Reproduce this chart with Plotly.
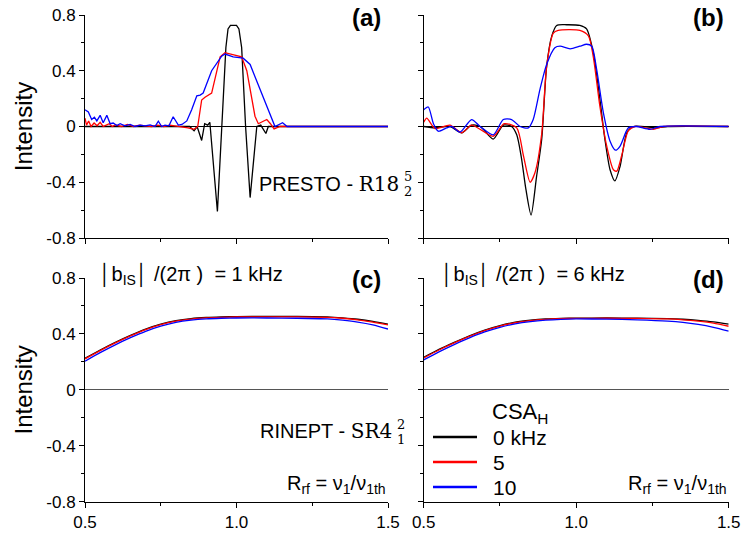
import plotly.graph_objects as go

W, H = 745, 535

# ---------------- data ----------------
# Panel (a) PRESTO, |b|/2pi = 1 kHz
a_black_x = [0.50, 0.82, 0.845, 0.86, 0.87, 0.885, 0.895, 0.905, 0.912, 0.937, 0.951, 0.965, 0.972,
             0.980, 1.000, 1.008, 1.017, 1.030, 1.045, 1.067, 1.080, 1.097, 1.105, 1.50]
a_black_y = [0.0, 0.0, 0.0, -0.03, 0.0, -0.10, 0.02, 0.01, 0.03, -0.61, 0.0, 0.567, 0.70,
             0.725, 0.725, 0.70, 0.567, 0.0, -0.51, 0.0, 0.01, -0.05, 0.0, 0.0]

a_red_x = [0.50, 0.505, 0.512, 0.52, 0.53, 0.54, 0.55, 0.56, 0.57, 0.58, 0.59, 0.60, 0.62, 0.64,
           0.66, 0.68, 0.70, 0.72, 0.74, 0.76, 0.78, 0.80, 0.82, 0.84, 0.86, 0.872, 0.885, 0.896,
           0.918, 0.946, 0.962, 0.99, 1.017, 1.034, 1.061, 1.072, 1.085, 1.100, 1.112, 1.124, 1.144,
           1.20, 1.30, 1.40, 1.50]
a_red_y = [0.06, 0.01, 0.04, 0.0, 0.025, 0.005, 0.03, 0.0, 0.01, 0.02, 0.0, 0.012, 0.0, 0.015,
           0.0, 0.01, 0.004, 0.0, 0.01, 0.0, 0.01, 0.005, 0.0, -0.01, -0.02, 0.0, 0.19, 0.21,
           0.24, 0.50, 0.53, 0.515, 0.50, 0.40, 0.074, 0.02, 0.035, 0.05, 0.02, -0.017, 0.0,
           0.0, 0.0, 0.0, 0.0]

a_blue_x = [0.500, 0.511, 0.522, 0.531, 0.539, 0.550, 0.560, 0.572, 0.583, 0.593, 0.605, 0.616,
            0.632, 0.649, 0.665, 0.682, 0.698, 0.715, 0.731, 0.742, 0.753, 0.764, 0.777, 0.791,
            0.808, 0.820, 0.836, 0.852, 0.869, 0.880, 0.890, 0.918, 0.951, 0.962, 0.989, 1.022,
            1.045, 1.078, 1.100, 1.116, 1.127, 1.152, 1.167, 1.30, 1.50]
a_blue_y = [0.12, 0.105, 0.05, 0.067, 0.04, 0.08, 0.027, 0.08, 0.02, 0.025, 0.007, 0.02,
            0.005, 0.015, 0.0, 0.01, 0.005, 0.012, 0.0, 0.038, 0.0, 0.01, 0.005, 0.07,
            0.01, 0.015, 0.04, 0.12, 0.22, 0.225, 0.24, 0.40, 0.505, 0.52, 0.50, 0.49,
            0.445, 0.265, 0.146, 0.05, 0.0, 0.027, 0.0, 0.0, 0.0]

# Panel (b) PRESTO, |b|/2pi = 6 kHz
b_black_x = [0.50, 0.537, 0.586, 0.625, 0.657, 0.685, 0.728, 0.761, 0.788, 0.805, 0.820, 0.835,
             0.852, 0.870, 0.887, 0.903, 0.920, 0.936, 0.969, 1.012, 1.034, 1.056, 1.078, 1.094,
             1.111, 1.127, 1.144, 1.166, 1.187, 1.264, 1.30, 1.50]
b_black_y = [0.0, -0.01, 0.0, -0.045, 0.01, 0.0, -0.09, 0.01, 0.0, -0.06, -0.22, -0.45,
             -0.635, -0.36, -0.09, 0.43, 0.65, 0.725, 0.73, 0.725, 0.70, 0.53, 0.19, -0.09,
             -0.31, -0.39, -0.285, -0.045, 0.0, -0.01, 0.0, 0.0]

b_red_x = [0.50, 0.51, 0.537, 0.586, 0.625, 0.657, 0.728, 0.764, 0.805, 0.827, 0.849, 0.865,
           0.887, 0.903, 0.925, 0.941, 1.012, 1.040, 1.056, 1.078, 1.100, 1.122, 1.133, 1.149,
           1.171, 1.193, 1.253, 1.286, 1.50]
b_red_y = [0.03, 0.06, -0.015, 0.01, -0.045, 0.01, -0.07, 0.02, -0.01, -0.21, -0.40, -0.33,
           -0.05, 0.43, 0.67, 0.69, 0.69, 0.65, 0.50, 0.14, -0.14, -0.31, -0.32, -0.21,
           -0.03, 0.0, -0.02, 0.0, 0.0]

b_blue_x = [0.50, 0.515, 0.532, 0.548, 0.575, 0.592, 0.619, 0.657, 0.685, 0.728, 0.761, 0.788,
            0.816, 0.843, 0.859, 0.881, 0.903, 0.930, 0.947, 0.980, 1.012, 1.034, 1.051, 1.067,
            1.089, 1.111, 1.129, 1.144, 1.171, 1.198, 1.242, 1.275, 1.50]
b_blue_y = [0.12, 0.14, 0.02, -0.034, -0.01, 0.0, -0.04, 0.05, 0.0, -0.06, 0.05, 0.05,
            0.0, -0.01, 0.05, 0.265, 0.445, 0.565, 0.576, 0.557, 0.576, 0.59, 0.576, 0.41,
            0.10, -0.105, -0.17, -0.14, -0.01, 0.0, -0.02, 0.0, 0.0]

# Panels (c), (d) RINEPT
r_x = [0.50, 0.55, 0.60, 0.65, 0.70, 0.75, 0.80, 0.85, 0.90, 0.95, 1.00, 1.10, 1.20, 1.30,
       1.35, 1.40, 1.45, 1.50]
c_black = [0.226, 0.285, 0.34, 0.39, 0.435, 0.47, 0.495, 0.51, 0.518, 0.522, 0.524, 0.525,
           0.525, 0.522, 0.515, 0.505, 0.49, 0.47]
c_red = [0.222, 0.281, 0.336, 0.386, 0.431, 0.466, 0.491, 0.506, 0.515, 0.519, 0.521, 0.522,
         0.522, 0.519, 0.512, 0.501, 0.485, 0.465]
c_blue = [0.205, 0.266, 0.322, 0.373, 0.419, 0.456, 0.483, 0.499, 0.508, 0.512, 0.514, 0.514,
          0.512, 0.507, 0.498, 0.485, 0.465, 0.435]
d_black = [0.233, 0.29, 0.34, 0.387, 0.428, 0.46, 0.484, 0.498, 0.507, 0.511, 0.513, 0.514,
           0.513, 0.51, 0.505, 0.497, 0.486, 0.47]
d_red = [0.228, 0.285, 0.336, 0.383, 0.424, 0.456, 0.48, 0.495, 0.504, 0.509, 0.511, 0.512,
         0.511, 0.507, 0.501, 0.491, 0.477, 0.455]
d_blue = [0.214, 0.272, 0.324, 0.372, 0.414, 0.447, 0.472, 0.488, 0.498, 0.504, 0.507, 0.506,
          0.501, 0.492, 0.483, 0.468, 0.447, 0.42]

series_names = ["0 kHz", "5", "10"]
colors = ["#000000", "#ff0000", "#0000ff"]

x_tickvals = [0.5, 1.0, 1.5]
x_ticktext = ["0.5", "1.0", "1.5"]
y_tickvals = [0.8, 0.4, 0, -0.4, -0.8]
y_ticktext = ["0.8", "0.4", "0", "-0.4", "-0.8"]

# ---------------- figure ----------------
FONT = "Arial, Liberation Sans, sans-serif"
SERIF = "DejaVu Serif"
fig = go.Figure()


def X(p):
    return p / W


def Y(p):
    return 1 - p / H


def add(xs, ys, axn, color, name, shape):
    suffix = "" if axn == 1 else str(axn)
    fig.add_trace(go.Scatter(
        x=xs, y=ys, mode="lines", name=name, showlegend=False,
        line=dict(color=color, width=1.3, shape=shape, smoothing=0.7 if shape == "spline" else None),
        xaxis="x" + suffix, yaxis="y" + suffix))


# (a)
add(a_black_x, a_black_y, 1, colors[0], series_names[0], "linear")
add(a_red_x, a_red_y, 1, colors[1], series_names[1], "linear")
add(a_blue_x, a_blue_y, 1, colors[2], series_names[2], "linear")
# (b)
add(b_black_x, b_black_y, 2, colors[0], series_names[0], "spline")
add(b_red_x, b_red_y, 2, colors[1], series_names[1], "spline")
add(b_blue_x, b_blue_y, 2, colors[2], series_names[2], "spline")
# (c)
for ys, c, n in zip([c_black, c_red, c_blue], colors, series_names):
    add(r_x, ys, 3, c, n, "spline")
# (d)
for ys, c, n in zip([d_black, d_red, d_blue], colors, series_names):
    add(r_x, ys, 4, c, n, "spline")

xa = [X(85), X(388)]
xb = [X(423.7), X(728.7)]
ytop = [Y(238), Y(15)]
ybot = [Y(501.7), Y(278)]


def xaxis(domain, anchor, labels):
    return dict(domain=domain, anchor=anchor, range=[0.5, 1.5], showgrid=False, zeroline=False,
                showline=True, linecolor="black", linewidth=1, ticks="outside", ticklen=5,
                tickcolor="black", tickvals=x_tickvals, ticktext=x_ticktext,
                showticklabels=labels, tickfont=dict(family=FONT, size=17, color="black"),
                ticklabeloverflow="allow",
                minor=dict(tickvals=[0.75, 1.25], ticks="outside", ticklen=3, tickcolor="black"),
                automargin=False, fixedrange=True)


def yaxis(domain, anchor, labels, zcolor, title):
    d = dict(domain=domain, anchor=anchor, range=[-0.8, 0.8], showgrid=False, zeroline=True,
             zerolinecolor=zcolor, zerolinewidth=1.2,
             showline=True, linecolor="black", linewidth=1, ticks="outside", ticklen=5,
             tickcolor="black", tickvals=y_tickvals, ticktext=y_ticktext,
             showticklabels=labels, tickfont=dict(family=FONT, size=17, color="black"),
             ticklabeloverflow="allow",
             minor=dict(tickvals=[0.6, 0.2, -0.2, -0.6], ticks="outside", ticklen=3,
                        tickcolor="black"),
             automargin=False, fixedrange=True)
    if title:
        d["title"] = dict(text="Intensity", font=dict(family=FONT, size=24, color="black"),
                          standoff=6)
    return d


fig.update_layout(
    width=W, height=H, margin=dict(l=0, r=0, t=0, b=0),
    paper_bgcolor="white", plot_bgcolor="white",
    font=dict(family=FONT, color="black"),
    xaxis=xaxis(xa, "y", False), yaxis=yaxis(ytop, "x", True, "black", True),
    xaxis2=xaxis(xb, "y2", False), yaxis2=yaxis(ytop, "x2", False, "black", False),
    xaxis3=xaxis(xa, "y3", True), yaxis3=yaxis(ybot, "x3", True, "#555555", True),
    xaxis4=xaxis(xb, "y4", True), yaxis4=yaxis(ybot, "x4", False, "#555555", False),
    showlegend=False,
)


def ann(xp, yp, text, size, xanchor="center"):
    fig.add_annotation(x=X(xp), y=Y(yp), xref="paper", yref="paper", text=text,
                       showarrow=False, xanchor=xanchor, yanchor="middle",
                       font=dict(family=FONT, size=size, color="black"))


def serif(t):
    return "<span style='font-family:" + SERIF + "'>" + t + "</span>"


# panel labels
for xp, yp, t in [(366, 18, "(a)"), (708, 18, "(b)"), (366, 279, "(c)"), (708, 279, "(d)")]:
    ann(xp, yp, "<b>" + t + "</b>", 24)

# legend (CSA_H) drawn in panel (d)
ann(490, 413, "CSA<sub>H</sub>", 22, xanchor="left")
for i, (name, c) in enumerate(zip(series_names, colors)):
    yrow = 437 + 25 * i
    fig.add_shape(type="line", xref="paper", yref="paper", x0=X(433), x1=X(477),
                  y0=Y(yrow), y1=Y(yrow), line=dict(color=c, width=2.5))
    ann(491, yrow, name, 21, xanchor="left")

# PRESTO label
ann(401, 184, "PRESTO - " + serif("R18"), 20, xanchor="right")
ann(402, 177, serif("5"), 13, xanchor="left")
ann(402, 192, serif("2"), 13, xanchor="left")

# RINEPT label
ann(394, 431, "RINEPT - " + serif("SR4"), 20, xanchor="right")
ann(395, 424, serif("2"), 13, xanchor="left")
ann(395, 439, serif("1"), 13, xanchor="left")

# coupling labels
ann(97, 275, "\u2502b<sub>IS</sub>\u2502 /(2\u03c0 )  = 1 kHz", 20, xanchor="left")
ann(439, 275, "\u2502b<sub>IS</sub>\u2502 /(2\u03c0 )  = 6 kHz", 20, xanchor="left")

# R_rf labels
ann(388, 484, "R<sub>rf</sub> = \u03bd<sub>1</sub>/\u03bd<sub>1th</sub>", 20, xanchor="right")
ann(729, 484, "R<sub>rf</sub> = \u03bd<sub>1</sub>/\u03bd<sub>1th</sub>", 20, xanchor="right")

fig.write_html("out.html", config={"displayModeBar": False},
               post_script="document.body.style.margin='0px';")
